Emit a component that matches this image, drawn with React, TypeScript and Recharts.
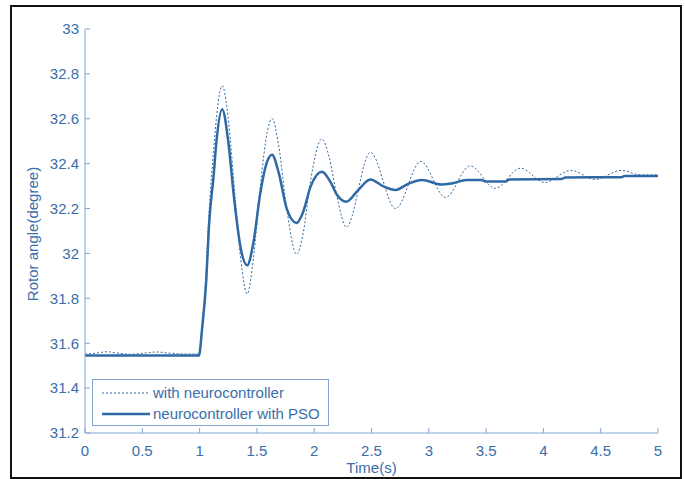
import { LineChart, Line, XAxis, YAxis, Label } from "recharts";

const timeTicks = [0, 0.5, 1, 1.5, 2, 2.5, 3, 3.5, 4, 4.5, 5];
const angleTicks = [31.2, 31.4, 31.6, 31.8, 32, 32.2, 32.4, 32.6, 32.8, 33];

// with neurocontroller (dotted)
const neuroTime = [
    0, 0.1, 0.19, 0.3, 0.4, 0.5, 0.62, 0.75, 0.9, 0.994, 1.023, 1.058, 1.081, 1.124, 1.15, 1.197,
    1.26, 1.31, 1.36, 1.415, 1.47, 1.53, 1.59, 1.632, 1.69, 1.76, 1.846, 1.9, 1.97, 2.067, 2.13,
    2.2, 2.28, 2.49, 2.71, 2.93, 3.145, 3.36, 3.58, 3.8, 4.01, 4.24, 4.45, 4.68, 4.85, 5,
];
const neuroAngle = [
    31.552, 31.556, 31.562, 31.555, 31.551, 31.555, 31.561, 31.555, 31.552, 31.552, 31.68, 31.93,
    32.17, 32.47, 32.62, 32.747, 32.55, 32.25, 31.97, 31.82, 31.98, 32.3, 32.54, 32.601, 32.48,
    32.2, 31.996, 32.08, 32.33, 32.51, 32.43, 32.25, 32.117, 32.45, 32.2, 32.41, 32.25, 32.39,
    32.29, 32.38, 32.316, 32.37, 32.33, 32.37, 32.35, 32.35,
];

// neurocontroller with PSO (solid)
const psoTime = [
    0, 0.5, 0.994, 1.023, 1.058, 1.081, 1.124, 1.145, 1.197, 1.25, 1.3, 1.36, 1.415, 1.47, 1.53,
    1.59, 1.632, 1.69, 1.76, 1.846, 1.9, 1.97, 2.067, 2.14, 2.2, 2.28, 2.38, 2.49, 2.6, 2.71, 2.82,
    2.94, 3.11, 3.2, 3.33, 3.46, 3.5, 3.67, 3.7, 4.16, 4.19, 4.68, 4.71, 5,
];
const psoAngle = [
    31.545, 31.545, 31.545, 31.672, 31.88, 32.117, 32.356, 32.488, 32.643, 32.5, 32.25, 32.02,
    31.947, 32.05, 32.27, 32.41, 32.44, 32.36, 32.2, 32.136, 32.18, 32.3, 32.364, 32.32, 32.26,
    32.23, 32.28, 32.33, 32.3, 32.283, 32.31, 32.327, 32.307, 32.312, 32.327, 32.327, 32.32,
    32.32, 32.33, 32.332, 32.338, 32.34, 32.345, 32.345,
];

const neuroData = neuroTime.map((t, i) => ({ t, angle: neuroAngle[i] }));
const psoData = psoTime.map((t, i) => ({ t, angle: psoAngle[i] }));

const lineColor = "#2e69a6";
const axisColor = "#7fa6d3";
const textColor = "#3a6ea9";
const font = "'Liberation Sans', Arial, sans-serif";

const fmt = (v: number) => String(+v.toFixed(1));

function LegendBox() {
    return (
        <div
            style={{
                position: "absolute",
                left: 92,
                top: 379,
                width: 237,
                height: 47,
                border: `1px solid ${axisColor}`,
                background: "#fff",
                fontFamily: font,
                fontSize: 15,
                color: textColor,
                boxSizing: "border-box",
            }}
        >
            <div style={{ display: "flex", alignItems: "center", height: 21, marginTop: 2 }}>
                <svg width={60} height={6}>
                    <line x1={9} y1={3} x2={57} y2={3} stroke={lineColor} strokeWidth={1} strokeDasharray="2 2" />
                </svg>
                <span>with neurocontroller</span>
            </div>
            <div style={{ display: "flex", alignItems: "center", height: 21 }}>
                <svg width={60} height={6}>
                    <line x1={9} y1={3} x2={57} y2={3} stroke={lineColor} strokeWidth={2.5} />
                </svg>
                <span>neurocontroller with PSO</span>
            </div>
        </div>
    );
}

function YTitle({ viewBox }: any) {
    const cx = viewBox.x + 7;
    const cy = viewBox.y + viewBox.height / 2 + 3;
    return (
        <text
            x={cx}
            y={cy}
            transform={`rotate(-90, ${cx}, ${cy})`}
            textAnchor="middle"
            dominantBaseline="central"
            fill={textColor}
            fontSize={15}
            fontFamily={font}
        >
            Rotor angle(degree)
        </text>
    );
}

export default function App() {
    const tickStyle = { fill: textColor, fontSize: 15, fontFamily: font };
    return (
        <div style={{ position: "absolute", left: 0, top: 0, width: 685, height: 479, background: "#fff" }}>
            <div
                style={{
                    position: "absolute",
                    left: 10,
                    top: 5,
                    width: 668,
                    height: 470,
                    border: "2px solid #111",
                }}
            />
            <LineChart
                width={685}
                height={479}
                margin={{ top: 29, right: 27, bottom: 16, left: 25 }}
                style={{ position: "absolute", left: 0, top: 0 }}
            >
                <XAxis
                    xAxisId="bottom"
                    dataKey="t"
                    type="number"
                    domain={[0, 5]}
                    ticks={timeTicks}
                    tickFormatter={fmt}
                    allowDataOverflow
                    height={30}
                    stroke={axisColor}
                    tickSize={-5}
                    tickMargin={17}
                    tick={tickStyle}
                >
                    <Label value="Time(s)" position="bottom" offset={-1} fill={textColor} fontSize={15} fontFamily={font} />
                </XAxis>
                <XAxis
                    xAxisId="top"
                    orientation="top"
                    type="number"
                    domain={[0, 5]}
                    ticks={timeTicks}
                    tickFormatter={() => ""}
                    height={0}
                    stroke={axisColor}
                    tickSize={-5}
                />
                <YAxis
                    yAxisId="left"
                    type="number"
                    domain={[31.2, 33]}
                    ticks={angleTicks}
                    tickFormatter={fmt}
                    allowDataOverflow
                    width={60}
                    stroke={axisColor}
                    tickSize={-5}
                    tickMargin={11}
                    tick={tickStyle}
                >
                    <Label content={<YTitle />} />
                </YAxis>
                <YAxis
                    yAxisId="right"
                    orientation="right"
                    type="number"
                    domain={[31.2, 33]}
                    ticks={angleTicks}
                    tickFormatter={() => ""}
                    width={0}
                    stroke={axisColor}
                    tickSize={-5}
                />
                <Line
                    xAxisId="bottom"
                    yAxisId="left"
                    data={neuroData}
                    dataKey="angle"
                    name="with neurocontroller"
                    type="monotone"
                    stroke={lineColor}
                    strokeWidth={1}
                    strokeDasharray="2 2"
                    dot={false}
                    isAnimationActive={false}
                />
                <Line
                    xAxisId="bottom"
                    yAxisId="left"
                    data={psoData}
                    dataKey="angle"
                    name="neurocontroller with PSO"
                    type="monotone"
                    stroke={lineColor}
                    strokeWidth={2.5}
                    dot={false}
                    isAnimationActive={false}
                />
            </LineChart>
            <LegendBox />
        </div>
    );
}
